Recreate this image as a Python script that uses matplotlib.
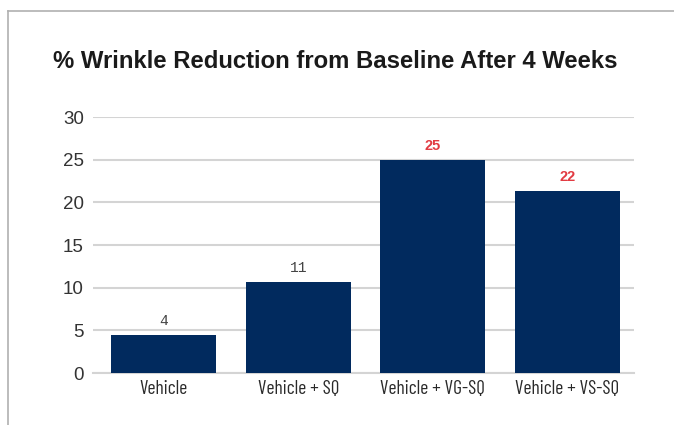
import matplotlib
matplotlib.use("Agg")
import matplotlib.pyplot as plt
from matplotlib.lines import Line2D

categories = ["Vehicle", "Vehicle + SQ", "Vehicle + VG-SQ", "Vehicle + VS-SQ"]
values = [4.5, 10.7, 25.0, 21.3]
labels = ["4", "11", "25", "22"]
highlight = [False, False, True, True]
yticks = [0, 5, 10, 15, 20, 25, 30]
title = "% Wrinkle Reduction from Baseline After 4 Weeks"

W, H = 674, 425
fig = plt.figure(figsize=(W / 100, H / 100), dpi=100)
ax = fig.add_axes([93 / W, (H - 373) / H, (634 - 93) / W, 256 / H])

x = [i + 0.5 for i in range(len(categories))]
ax.bar(x, values, width=0.78, color="#012a5e", zorder=3)
ax.set_xlim(-0.024, 3.994)
ax.set_ylim(0, 30)
ax.set_yticks(yticks)
ax.set_yticklabels([str(t) for t in yticks], fontsize=13.5, color="#333333",
                   family="Liberation Sans")
ax.set_xticks(x)
ax.set_xticklabels(categories, fontsize=14, color="#2a2a2a",
                   family=["Barlow Condensed", "Archivo Narrow", "DejaVu Sans"])
ax.tick_params(length=0, pad=5)
ax.tick_params(axis="y", pad=6.5)
ax.grid(axis="y", color="#d4d4d4", linewidth=1.5, zorder=0)
for s in ["top", "right", "left"]:
    ax.spines[s].set_visible(False)
ax.spines["bottom"].set_color("#d4d4d4")
ax.spines["bottom"].set_linewidth(1.5)

for xi, v, lab, hl in zip(x, values, labels, highlight):
    if hl:
        ax.annotate(lab, (xi, v), xytext=(0, 5), textcoords="offset points",
                    ha="center", va="bottom", fontsize=10.5, fontweight="bold",
                    color="#e23b42", family="Liberation Sans")
    else:
        ax.annotate(lab, (xi, v), xytext=(0, 5), textcoords="offset points",
                    ha="center", va="bottom", fontsize=10.5,
                    color="#444444", family="Liberation Mono")

fig.text(53 / W, 1 - 61 / H, title, fontsize=17.2, fontweight="bold",
         color="#1a1a1a", family="Liberation Sans", ha="left", va="center")

fig.add_artist(Line2D([8 / W, 1], [1 - 10.5 / H, 1 - 10.5 / H],
                      transform=fig.transFigure, color="#b0b0b0", linewidth=1.2))
fig.add_artist(Line2D([8 / W, 8 / W], [0, 1 - 10.5 / H],
                      transform=fig.transFigure, color="#b0b0b0", linewidth=1.2))

fig.savefig("out.png", dpi=100)
